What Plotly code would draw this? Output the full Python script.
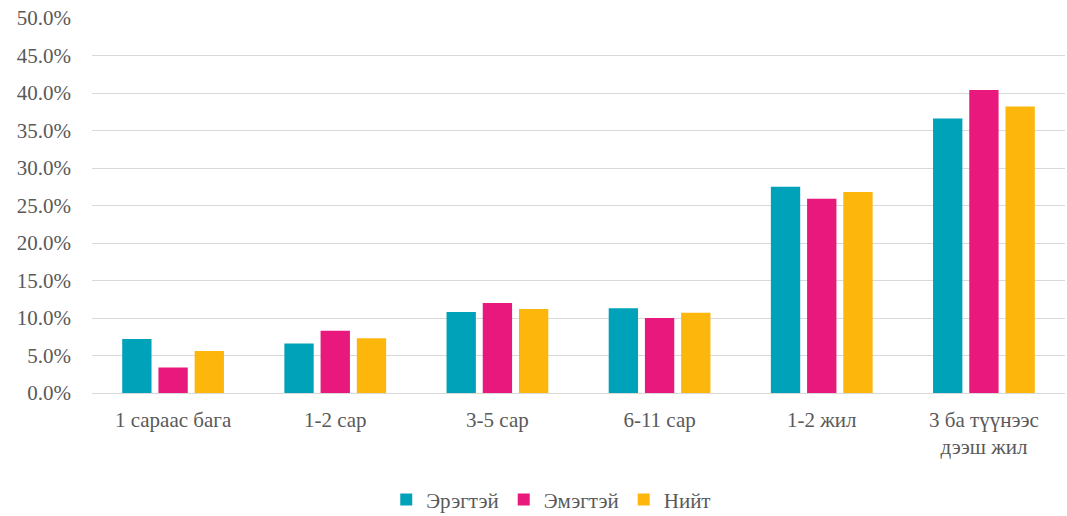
import plotly.graph_objects as go

categories = ["1 сараас бага", "1-2 сар", "3-5 сар", "6-11 сар", "1-2 жил", "3 ба түүнээс<br>дээш жил"]
male = [7.2, 6.6, 10.8, 11.3, 27.5, 36.6]
female = [3.4, 8.3, 12.0, 10.0, 25.9, 40.4]
total = [5.6, 7.3, 11.2, 10.7, 26.8, 38.2]
series_names = ["Эрэгтэй", "Эмэгтэй", "Нийт"]
colors = ["#00A2B9", "#E8187C", "#FDB60C"]
y_ticks = [0, 5, 10, 15, 20, 25, 30, 35, 40, 45, 50]

fig = go.Figure()
for name, vals, col in zip(series_names, [male, female, total], colors):
    fig.add_trace(go.Bar(x=categories, y=vals, name=name, marker=dict(color=col, line=dict(width=0))))

font_family = "'Liberation Serif', 'Times New Roman', serif"
fig.update_layout(
    width=1067, height=516,
    margin=dict(l=92, r=2, t=18, b=123, autoexpand=False),
    paper_bgcolor="white", plot_bgcolor="white",
    barmode="group", bargap=0.33, bargroupgap=0.19,
    font=dict(family=font_family, size=21, color="#595959"),
    showlegend=True,
    legend=dict(orientation="h", x=0.472, xanchor="center", y=-0.285, yanchor="middle",
                font=dict(family=font_family, size=21, color="#595959"), tracegroupgap=0,
                traceorder="normal"),
    xaxis=dict(showgrid=False, showline=False, ticks="", ticklabelstandoff=12, automargin=False,
               tickfont=dict(family=font_family, size=21, color="#595959")),
    yaxis=dict(range=[0, 50], tickvals=y_ticks, ticktext=[f"{v:.1f}%" for v in y_ticks],
               showgrid=True, gridcolor="#D9D9D9", gridwidth=1.3, zeroline=True, automargin=False,
               zerolinecolor="#D9D9D9", zerolinewidth=1.3, showline=False, ticks="",
               ticklabelstandoff=20, tickfont=dict(family=font_family, size=21, color="#595959")),
)
fig.write_html("out.html", config={"displayModeBar": False},
               post_script="document.body.style.margin='0';document.body.style.overflow='hidden';")
